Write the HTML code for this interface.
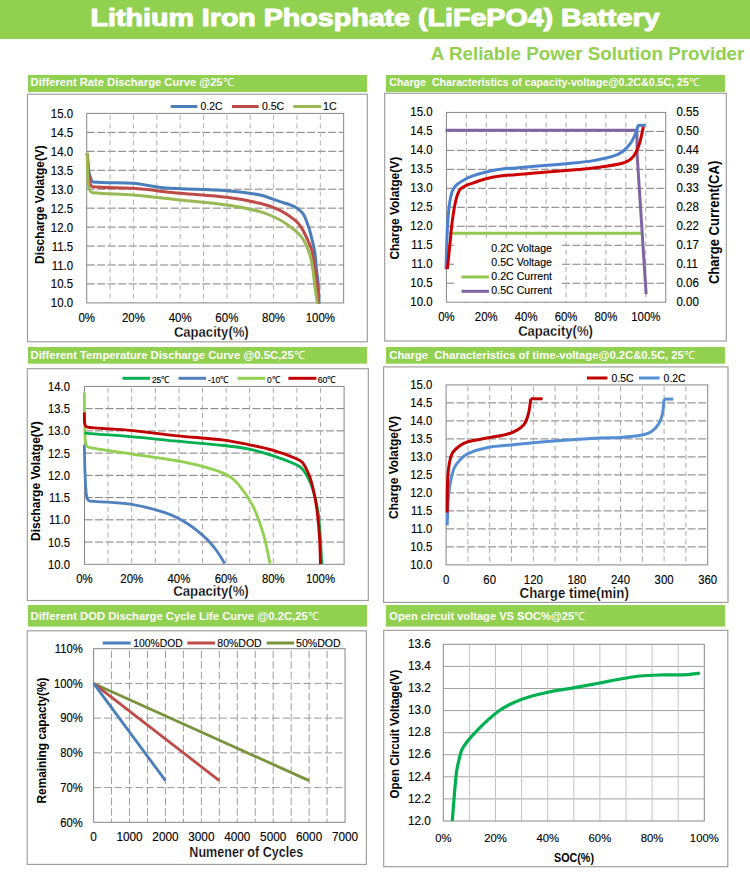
<!DOCTYPE html>
<html><head><meta charset="utf-8"><title>LiFePO4 Battery</title>
<style>html,body{margin:0;padding:0;background:#fff;}svg{display:block;}</style></head>
<body><svg width="750" height="879" viewBox="0 0 750 879" font-family="Liberation Sans, sans-serif">
<rect x="0" y="0" width="750" height="879" fill="#fff"/>
<rect x="0.00" y="0.00" width="750.00" height="39.00" fill="#92D050" stroke="none" stroke-width="1" />
<text x="90.6" y="26.0" font-size="23.2" font-weight="bold" fill="#fff" stroke="#fff" stroke-width="1.05" stroke-linejoin="round" textLength="569" lengthAdjust="spacingAndGlyphs">Lithium Iron Phosphate (LiFePO4) Battery</text>
<text x="430.80" y="59.50" font-size="18" text-anchor="start" font-weight="bold" fill="#92D050" textLength="313.6" lengthAdjust="spacingAndGlyphs" >A Reliable Power Solution Provider</text>
<rect x="28.00" y="75.00" width="339.00" height="17.00" fill="#92D050" stroke="none" stroke-width="1" />
<text x="30.60" y="85.70" font-size="11" text-anchor="start" font-weight="bold" fill="#fff" textLength="203.2" lengthAdjust="spacingAndGlyphs" >Different Rate Discharge Curve @25<tspan font-weight="normal">℃</tspan></text>
<rect x="386.00" y="75.00" width="339.00" height="17.00" fill="#92D050" stroke="none" stroke-width="1" />
<text x="389.30" y="85.70" font-size="11" text-anchor="start" font-weight="bold" fill="#fff" textLength="310.3" lengthAdjust="spacingAndGlyphs" >Charge  Characteristics of capacity-voltage@0.2C&amp;0.5C, 25<tspan font-weight="normal">℃</tspan></text>
<rect x="28.00" y="347.00" width="339.00" height="16.70" fill="#92D050" stroke="none" stroke-width="1" />
<text x="30.60" y="358.70" font-size="11" text-anchor="start" font-weight="bold" fill="#fff" textLength="274.4" lengthAdjust="spacingAndGlyphs" >Different Temperature Discharge Curve @0.5C,25<tspan font-weight="normal">℃</tspan></text>
<rect x="386.00" y="347.00" width="339.00" height="16.70" fill="#92D050" stroke="none" stroke-width="1" />
<text x="389.30" y="358.70" font-size="11" text-anchor="start" font-weight="bold" fill="#fff" textLength="305.7" lengthAdjust="spacingAndGlyphs" >Charge  Characteristics of time-voltage@0.2C&amp;0.5C, 25<tspan font-weight="normal">℃</tspan></text>
<rect x="28.00" y="605.00" width="339.00" height="21.60" fill="#92D050" stroke="none" stroke-width="1" />
<text x="30.60" y="619.70" font-size="11" text-anchor="start" font-weight="bold" fill="#fff" textLength="288.4" lengthAdjust="spacingAndGlyphs" >Different DOD Discharge Cycle Life Curve @0.2C,25<tspan font-weight="normal">℃</tspan></text>
<rect x="386.00" y="605.00" width="339.00" height="21.60" fill="#92D050" stroke="none" stroke-width="1" />
<text x="389.30" y="619.70" font-size="11" text-anchor="start" font-weight="bold" fill="#fff" textLength="196" lengthAdjust="spacingAndGlyphs" >Open circuit voltage VS SOC%@25<tspan font-weight="normal">℃</tspan></text>
<rect x="27.50" y="94.20" width="339.80" height="247.60" fill="none" stroke="#9C9C9C" stroke-width="1.15" />
<rect x="384.70" y="93.30" width="341.60" height="247.70" fill="none" stroke="#9C9C9C" stroke-width="1.15" />
<rect x="27.30" y="368.70" width="341.00" height="231.80" fill="none" stroke="#9C9C9C" stroke-width="1.15" />
<rect x="383.60" y="366.90" width="344.40" height="235.50" fill="none" stroke="#9C9C9C" stroke-width="1.15" />
<rect x="27.20" y="630.80" width="339.20" height="233.60" fill="none" stroke="#9C9C9C" stroke-width="1.15" />
<rect x="383.70" y="630.30" width="344.10" height="236.40" fill="none" stroke="#9C9C9C" stroke-width="1.15" />
<line x1="86.70" y1="132.35" x2="343.66" y2="132.35" stroke="#7E7E7E" stroke-width="1" stroke-dasharray="8,2.5" />
<line x1="86.70" y1="151.30" x2="343.66" y2="151.30" stroke="#7E7E7E" stroke-width="1" stroke-dasharray="8,2.5" />
<line x1="86.70" y1="170.25" x2="343.66" y2="170.25" stroke="#7E7E7E" stroke-width="1" stroke-dasharray="8,2.5" />
<line x1="86.70" y1="189.20" x2="343.66" y2="189.20" stroke="#7E7E7E" stroke-width="1" stroke-dasharray="8,2.5" />
<line x1="86.70" y1="208.15" x2="343.66" y2="208.15" stroke="#7E7E7E" stroke-width="1" stroke-dasharray="8,2.5" />
<line x1="86.70" y1="227.10" x2="343.66" y2="227.10" stroke="#7E7E7E" stroke-width="1" stroke-dasharray="8,2.5" />
<line x1="86.70" y1="246.05" x2="343.66" y2="246.05" stroke="#7E7E7E" stroke-width="1" stroke-dasharray="8,2.5" />
<line x1="86.70" y1="265.00" x2="343.66" y2="265.00" stroke="#7E7E7E" stroke-width="1" stroke-dasharray="8,2.5" />
<line x1="86.70" y1="283.95" x2="343.66" y2="283.95" stroke="#7E7E7E" stroke-width="1" stroke-dasharray="8,2.5" />
<line x1="110.06" y1="113.40" x2="110.06" y2="302.90" stroke="#B2B2B2" stroke-width="1" stroke-dasharray="5,3.5" stroke-dashoffset="-1.5"/>
<line x1="133.42" y1="113.40" x2="133.42" y2="302.90" stroke="#B2B2B2" stroke-width="1" stroke-dasharray="5,3.5" stroke-dashoffset="-1.5"/>
<line x1="156.78" y1="113.40" x2="156.78" y2="302.90" stroke="#B2B2B2" stroke-width="1" stroke-dasharray="5,3.5" stroke-dashoffset="-1.5"/>
<line x1="180.14" y1="113.40" x2="180.14" y2="302.90" stroke="#B2B2B2" stroke-width="1" stroke-dasharray="5,3.5" stroke-dashoffset="-1.5"/>
<line x1="203.50" y1="113.40" x2="203.50" y2="302.90" stroke="#B2B2B2" stroke-width="1" stroke-dasharray="5,3.5" stroke-dashoffset="-1.5"/>
<line x1="226.86" y1="113.40" x2="226.86" y2="302.90" stroke="#B2B2B2" stroke-width="1" stroke-dasharray="5,3.5" stroke-dashoffset="-1.5"/>
<line x1="250.22" y1="113.40" x2="250.22" y2="302.90" stroke="#B2B2B2" stroke-width="1" stroke-dasharray="5,3.5" stroke-dashoffset="-1.5"/>
<line x1="273.58" y1="113.40" x2="273.58" y2="302.90" stroke="#B2B2B2" stroke-width="1" stroke-dasharray="5,3.5" stroke-dashoffset="-1.5"/>
<line x1="296.94" y1="113.40" x2="296.94" y2="302.90" stroke="#B2B2B2" stroke-width="1" stroke-dasharray="5,3.5" stroke-dashoffset="-1.5"/>
<line x1="320.30" y1="113.40" x2="320.30" y2="302.90" stroke="#B2B2B2" stroke-width="1" stroke-dasharray="5,3.5" stroke-dashoffset="-1.5"/>
<rect x="86.70" y="113.40" width="256.96" height="189.50" fill="none" stroke="#868686" stroke-width="1" />
<text transform="translate(73.00,117.90) scale(1,1.13)" x="0" y="0" font-size="11.4" text-anchor="end" font-weight="normal" fill="#000" stroke="#000" stroke-width="0.12" >15.0</text>
<text transform="translate(73.00,136.85) scale(1,1.13)" x="0" y="0" font-size="11.4" text-anchor="end" font-weight="normal" fill="#000" stroke="#000" stroke-width="0.12" >14.5</text>
<text transform="translate(73.00,155.80) scale(1,1.13)" x="0" y="0" font-size="11.4" text-anchor="end" font-weight="normal" fill="#000" stroke="#000" stroke-width="0.12" >14.0</text>
<text transform="translate(73.00,174.75) scale(1,1.13)" x="0" y="0" font-size="11.4" text-anchor="end" font-weight="normal" fill="#000" stroke="#000" stroke-width="0.12" >13.5</text>
<text transform="translate(73.00,193.70) scale(1,1.13)" x="0" y="0" font-size="11.4" text-anchor="end" font-weight="normal" fill="#000" stroke="#000" stroke-width="0.12" >13.0</text>
<text transform="translate(73.00,212.65) scale(1,1.13)" x="0" y="0" font-size="11.4" text-anchor="end" font-weight="normal" fill="#000" stroke="#000" stroke-width="0.12" >12.5</text>
<text transform="translate(73.00,231.60) scale(1,1.13)" x="0" y="0" font-size="11.4" text-anchor="end" font-weight="normal" fill="#000" stroke="#000" stroke-width="0.12" >12.0</text>
<text transform="translate(73.00,250.55) scale(1,1.13)" x="0" y="0" font-size="11.4" text-anchor="end" font-weight="normal" fill="#000" stroke="#000" stroke-width="0.12" >11.5</text>
<text transform="translate(73.00,269.50) scale(1,1.13)" x="0" y="0" font-size="11.4" text-anchor="end" font-weight="normal" fill="#000" stroke="#000" stroke-width="0.12" >11.0</text>
<text transform="translate(73.00,288.45) scale(1,1.13)" x="0" y="0" font-size="11.4" text-anchor="end" font-weight="normal" fill="#000" stroke="#000" stroke-width="0.12" >10.5</text>
<text transform="translate(73.00,307.40) scale(1,1.13)" x="0" y="0" font-size="11.4" text-anchor="end" font-weight="normal" fill="#000" stroke="#000" stroke-width="0.12" >10.0</text>
<text transform="translate(86.70,322.00) scale(1,1.12)" x="0" y="0" font-size="11.5" text-anchor="middle" font-weight="normal" fill="#000" stroke="#000" stroke-width="0.12" >0%</text>
<text transform="translate(133.42,322.00) scale(1,1.12)" x="0" y="0" font-size="11.5" text-anchor="middle" font-weight="normal" fill="#000" stroke="#000" stroke-width="0.12" >20%</text>
<text transform="translate(180.14,322.00) scale(1,1.12)" x="0" y="0" font-size="11.5" text-anchor="middle" font-weight="normal" fill="#000" stroke="#000" stroke-width="0.12" >40%</text>
<text transform="translate(226.86,322.00) scale(1,1.12)" x="0" y="0" font-size="11.5" text-anchor="middle" font-weight="normal" fill="#000" stroke="#000" stroke-width="0.12" >60%</text>
<text transform="translate(273.58,322.00) scale(1,1.12)" x="0" y="0" font-size="11.5" text-anchor="middle" font-weight="normal" fill="#000" stroke="#000" stroke-width="0.12" >80%</text>
<text transform="translate(320.30,322.00) scale(1,1.12)" x="0" y="0" font-size="11.5" text-anchor="middle" font-weight="normal" fill="#000" stroke="#000" stroke-width="0.12" >100%</text>
<text transform="translate(211.30,336.60) scale(1,1.14)" x="0" y="0" font-size="12.5" text-anchor="middle" font-weight="bold" fill="#000" textLength="74.8" lengthAdjust="spacingAndGlyphs" stroke="#fff" stroke-width="0.22">Capacity(%)</text>
<text transform="translate(43.90,204.60) rotate(-90) scale(1,1.1)" x="0" y="0" font-size="12" text-anchor="middle" font-weight="bold" fill="#000" textLength="118.7" lengthAdjust="spacingAndGlyphs">Discharge Volatge(V)</text>
<line x1="170.70" y1="106.50" x2="197.30" y2="106.50" stroke="#4A7EBB" stroke-width="3" />
<text x="200.50" y="109.90" font-size="11.3" text-anchor="start" font-weight="normal" fill="#000" stroke="#000" stroke-width="0.12" textLength="22" lengthAdjust="spacingAndGlyphs" >0.2C</text>
<line x1="232.00" y1="106.50" x2="258.70" y2="106.50" stroke="#BE4B48" stroke-width="3" />
<text x="261.90" y="109.90" font-size="11.3" text-anchor="start" font-weight="normal" fill="#000" stroke="#000" stroke-width="0.12" textLength="22.3" lengthAdjust="spacingAndGlyphs" >0.5C</text>
<line x1="293.30" y1="106.50" x2="321.30" y2="106.50" stroke="#98B954" stroke-width="3" />
<text x="323.00" y="109.90" font-size="11.3" text-anchor="start" font-weight="normal" fill="#000" stroke="#000" stroke-width="0.12" textLength="13.7" lengthAdjust="spacingAndGlyphs" >1C</text>
<path d="M87.20,153.00 C87.72,159.11 87.88,165.29 88.77,171.33 C89.14,173.89 89.99,176.43 90.97,178.80 C91.44,179.95 91.89,181.77 93.10,181.90 C106.02,183.28 119.98,182.24 133.33,183.33 C143.39,184.16 153.27,186.88 163.33,187.67 C184.38,189.32 205.61,189.07 226.67,190.67 C237.83,191.51 249.07,192.75 260.00,195.00 C266.85,196.41 273.32,199.49 280.00,201.67 C283.88,202.93 287.91,203.80 291.67,205.33 C294.03,206.30 296.33,207.61 298.33,209.17 C300.33,210.72 302.41,212.49 303.67,214.67 C305.84,218.44 307.19,222.81 308.60,227.00 C309.96,231.03 310.99,235.19 312.00,239.33 C313.05,243.64 314.14,247.96 314.80,252.33 C315.64,257.96 315.89,263.67 316.50,269.33 C317.03,274.23 317.83,279.10 318.20,284.00 C318.70,290.54 318.80,297.11 319.10,303.67" fill="none" stroke="#4A7EBB" stroke-width="3" stroke-linejoin="round" stroke-linecap="butt"/>
<path d="M87.20,153.00 C87.72,159.72 88.09,166.46 88.77,173.17 C89.13,176.73 89.37,180.43 90.30,183.80 C90.61,184.93 91.33,186.54 92.50,186.67 C105.68,188.06 119.76,187.30 133.33,188.33 C148.92,189.52 164.43,191.83 180.00,193.33 C195.54,194.83 211.19,195.40 226.67,197.33 C237.86,198.73 249.06,200.67 260.00,203.33 C266.84,205.00 273.68,207.29 280.00,210.33 C285.35,212.91 290.43,216.43 295.00,220.20 C297.70,222.43 299.94,225.36 301.80,228.33 C304.48,232.62 306.51,237.37 308.60,242.00 C309.91,244.92 311.27,247.89 312.00,251.00 C313.41,257.00 314.05,263.21 315.00,269.33 C315.75,274.21 316.61,279.09 317.10,284.00 C317.75,290.53 317.97,297.11 318.40,303.67" fill="none" stroke="#BE4B48" stroke-width="3" stroke-linejoin="round" stroke-linecap="butt"/>
<path d="M87.20,153.00 C87.51,162.89 87.40,172.83 88.13,182.67 C88.34,185.39 88.86,188.37 90.00,190.67 C90.51,191.70 91.89,192.55 93.10,192.67 C106.33,193.99 119.95,193.87 133.33,195.00 C148.92,196.32 164.44,198.33 180.00,200.00 C195.56,201.67 211.20,202.74 226.67,205.00 C237.87,206.63 249.14,208.61 260.00,211.67 C266.92,213.61 273.66,216.62 280.00,220.00 C285.33,222.84 290.27,226.57 295.00,230.33 C297.54,232.35 299.88,234.74 301.80,237.33 C303.75,239.96 305.28,242.98 306.60,246.00 C308.24,249.76 309.61,253.70 310.67,257.67 C311.68,261.48 312.25,265.42 312.83,269.33 C313.56,274.20 313.96,279.12 314.60,284.00 C315.45,290.56 316.40,297.11 317.30,303.67" fill="none" stroke="#98B954" stroke-width="3" stroke-linejoin="round" stroke-linecap="butt"/>
<line x1="446.40" y1="131.38" x2="665.74" y2="131.38" stroke="#7E7E7E" stroke-width="1" stroke-dasharray="8,2.5" />
<line x1="446.40" y1="150.36" x2="665.74" y2="150.36" stroke="#7E7E7E" stroke-width="1" stroke-dasharray="8,2.5" />
<line x1="446.40" y1="169.34" x2="665.74" y2="169.34" stroke="#7E7E7E" stroke-width="1" stroke-dasharray="8,2.5" />
<line x1="446.40" y1="188.32" x2="665.74" y2="188.32" stroke="#7E7E7E" stroke-width="1" stroke-dasharray="8,2.5" />
<line x1="446.40" y1="207.30" x2="665.74" y2="207.30" stroke="#7E7E7E" stroke-width="1" stroke-dasharray="8,2.5" />
<line x1="446.40" y1="226.28" x2="665.74" y2="226.28" stroke="#7E7E7E" stroke-width="1" stroke-dasharray="8,2.5" />
<line x1="446.40" y1="245.26" x2="665.74" y2="245.26" stroke="#7E7E7E" stroke-width="1" stroke-dasharray="8,2.5" />
<line x1="446.40" y1="264.24" x2="665.74" y2="264.24" stroke="#7E7E7E" stroke-width="1" stroke-dasharray="8,2.5" />
<line x1="446.40" y1="283.22" x2="665.74" y2="283.22" stroke="#7E7E7E" stroke-width="1" stroke-dasharray="8,2.5" />
<line x1="466.34" y1="112.40" x2="466.34" y2="302.20" stroke="#A8A8A8" stroke-width="1" stroke-dasharray="5,3.5" stroke-dashoffset="-1.5"/>
<line x1="486.28" y1="112.40" x2="486.28" y2="302.20" stroke="#A8A8A8" stroke-width="1" stroke-dasharray="5,3.5" stroke-dashoffset="-1.5"/>
<line x1="506.22" y1="112.40" x2="506.22" y2="302.20" stroke="#A8A8A8" stroke-width="1" stroke-dasharray="5,3.5" stroke-dashoffset="-1.5"/>
<line x1="526.16" y1="112.40" x2="526.16" y2="302.20" stroke="#A8A8A8" stroke-width="1" stroke-dasharray="5,3.5" stroke-dashoffset="-1.5"/>
<line x1="546.10" y1="112.40" x2="546.10" y2="302.20" stroke="#A8A8A8" stroke-width="1" stroke-dasharray="5,3.5" stroke-dashoffset="-1.5"/>
<line x1="566.04" y1="112.40" x2="566.04" y2="302.20" stroke="#A8A8A8" stroke-width="1" stroke-dasharray="5,3.5" stroke-dashoffset="-1.5"/>
<line x1="585.98" y1="112.40" x2="585.98" y2="302.20" stroke="#A8A8A8" stroke-width="1" stroke-dasharray="5,3.5" stroke-dashoffset="-1.5"/>
<line x1="605.92" y1="112.40" x2="605.92" y2="302.20" stroke="#A8A8A8" stroke-width="1" stroke-dasharray="5,3.5" stroke-dashoffset="-1.5"/>
<line x1="625.86" y1="112.40" x2="625.86" y2="302.20" stroke="#A8A8A8" stroke-width="1" stroke-dasharray="5,3.5" stroke-dashoffset="-1.5"/>
<line x1="645.80" y1="112.40" x2="645.80" y2="302.20" stroke="#A8A8A8" stroke-width="1" stroke-dasharray="5,3.5" stroke-dashoffset="-1.5"/>
<rect x="446.40" y="112.40" width="219.34" height="189.80" fill="none" stroke="#868686" stroke-width="1" />
<text transform="translate(432.50,116.00) scale(1,1.13)" x="0" y="0" font-size="11.4" text-anchor="end" font-weight="normal" fill="#000" stroke="#000" stroke-width="0.12" >15.0</text>
<text transform="translate(432.50,134.98) scale(1,1.13)" x="0" y="0" font-size="11.4" text-anchor="end" font-weight="normal" fill="#000" stroke="#000" stroke-width="0.12" >14.5</text>
<text transform="translate(432.50,153.96) scale(1,1.13)" x="0" y="0" font-size="11.4" text-anchor="end" font-weight="normal" fill="#000" stroke="#000" stroke-width="0.12" >14.0</text>
<text transform="translate(432.50,172.94) scale(1,1.13)" x="0" y="0" font-size="11.4" text-anchor="end" font-weight="normal" fill="#000" stroke="#000" stroke-width="0.12" >13.5</text>
<text transform="translate(432.50,191.92) scale(1,1.13)" x="0" y="0" font-size="11.4" text-anchor="end" font-weight="normal" fill="#000" stroke="#000" stroke-width="0.12" >13.0</text>
<text transform="translate(432.50,210.90) scale(1,1.13)" x="0" y="0" font-size="11.4" text-anchor="end" font-weight="normal" fill="#000" stroke="#000" stroke-width="0.12" >12.5</text>
<text transform="translate(432.50,229.88) scale(1,1.13)" x="0" y="0" font-size="11.4" text-anchor="end" font-weight="normal" fill="#000" stroke="#000" stroke-width="0.12" >12.0</text>
<text transform="translate(432.50,248.86) scale(1,1.13)" x="0" y="0" font-size="11.4" text-anchor="end" font-weight="normal" fill="#000" stroke="#000" stroke-width="0.12" >11.5</text>
<text transform="translate(432.50,267.84) scale(1,1.13)" x="0" y="0" font-size="11.4" text-anchor="end" font-weight="normal" fill="#000" stroke="#000" stroke-width="0.12" >11.0</text>
<text transform="translate(432.50,286.82) scale(1,1.13)" x="0" y="0" font-size="11.4" text-anchor="end" font-weight="normal" fill="#000" stroke="#000" stroke-width="0.12" >10.5</text>
<text transform="translate(432.50,305.80) scale(1,1.13)" x="0" y="0" font-size="11.4" text-anchor="end" font-weight="normal" fill="#000" stroke="#000" stroke-width="0.12" >10.0</text>
<text transform="translate(676.40,116.00) scale(1,1.13)" x="0" y="0" font-size="11.5" text-anchor="start" font-weight="normal" fill="#000" stroke="#000" stroke-width="0.12" >0.55</text>
<text transform="translate(676.40,134.98) scale(1,1.13)" x="0" y="0" font-size="11.5" text-anchor="start" font-weight="normal" fill="#000" stroke="#000" stroke-width="0.12" >0.50</text>
<text transform="translate(676.40,153.96) scale(1,1.13)" x="0" y="0" font-size="11.5" text-anchor="start" font-weight="normal" fill="#000" stroke="#000" stroke-width="0.12" >0.44</text>
<text transform="translate(676.40,172.94) scale(1,1.13)" x="0" y="0" font-size="11.5" text-anchor="start" font-weight="normal" fill="#000" stroke="#000" stroke-width="0.12" >0.39</text>
<text transform="translate(676.40,191.92) scale(1,1.13)" x="0" y="0" font-size="11.5" text-anchor="start" font-weight="normal" fill="#000" stroke="#000" stroke-width="0.12" >0.33</text>
<text transform="translate(676.40,210.90) scale(1,1.13)" x="0" y="0" font-size="11.5" text-anchor="start" font-weight="normal" fill="#000" stroke="#000" stroke-width="0.12" >0.28</text>
<text transform="translate(676.40,229.88) scale(1,1.13)" x="0" y="0" font-size="11.5" text-anchor="start" font-weight="normal" fill="#000" stroke="#000" stroke-width="0.12" >0.22</text>
<text transform="translate(676.40,248.86) scale(1,1.13)" x="0" y="0" font-size="11.5" text-anchor="start" font-weight="normal" fill="#000" stroke="#000" stroke-width="0.12" >0.17</text>
<text transform="translate(676.40,267.84) scale(1,1.13)" x="0" y="0" font-size="11.5" text-anchor="start" font-weight="normal" fill="#000" stroke="#000" stroke-width="0.12" >0.11</text>
<text transform="translate(676.40,286.82) scale(1,1.13)" x="0" y="0" font-size="11.5" text-anchor="start" font-weight="normal" fill="#000" stroke="#000" stroke-width="0.12" >0.06</text>
<text transform="translate(676.40,305.80) scale(1,1.13)" x="0" y="0" font-size="11.5" text-anchor="start" font-weight="normal" fill="#000" stroke="#000" stroke-width="0.12" >0.00</text>
<text transform="translate(446.40,321.30) scale(1,1.12)" x="0" y="0" font-size="11.4" text-anchor="middle" font-weight="normal" fill="#000" stroke="#000" stroke-width="0.12" >0%</text>
<text transform="translate(486.28,321.30) scale(1,1.12)" x="0" y="0" font-size="11.4" text-anchor="middle" font-weight="normal" fill="#000" stroke="#000" stroke-width="0.12" >20%</text>
<text transform="translate(526.16,321.30) scale(1,1.12)" x="0" y="0" font-size="11.4" text-anchor="middle" font-weight="normal" fill="#000" stroke="#000" stroke-width="0.12" >40%</text>
<text transform="translate(566.04,321.30) scale(1,1.12)" x="0" y="0" font-size="11.4" text-anchor="middle" font-weight="normal" fill="#000" stroke="#000" stroke-width="0.12" >60%</text>
<text transform="translate(605.92,321.30) scale(1,1.12)" x="0" y="0" font-size="11.4" text-anchor="middle" font-weight="normal" fill="#000" stroke="#000" stroke-width="0.12" >80%</text>
<text transform="translate(645.80,321.30) scale(1,1.12)" x="0" y="0" font-size="11.4" text-anchor="middle" font-weight="normal" fill="#000" stroke="#000" stroke-width="0.12" >100%</text>
<text transform="translate(555.50,335.90) scale(1,1.14)" x="0" y="0" font-size="12.5" text-anchor="middle" font-weight="bold" fill="#000" textLength="74.7" lengthAdjust="spacingAndGlyphs" stroke="#fff" stroke-width="0.22">Capacity(%)</text>
<text transform="translate(399.00,208.20) rotate(-90) scale(1,1.1)" x="0" y="0" font-size="12" text-anchor="middle" font-weight="bold" fill="#000" textLength="102.8" lengthAdjust="spacingAndGlyphs">Charge Volatge(V)</text>
<text transform="translate(718.70,222.40) rotate(-90) scale(1,1.1)" x="0" y="0" font-size="12.8" text-anchor="middle" font-weight="bold" fill="#000" textLength="123.4" lengthAdjust="spacingAndGlyphs">Charge Current(CA)</text>
<rect x="454.00" y="240.50" width="105.50" height="60.70" fill="#fff" stroke="none" stroke-width="1" />
<text x="491.30" y="252.10" font-size="10.6" text-anchor="start" font-weight="normal" fill="#000" stroke="#000" stroke-width="0.12" textLength="60.7" lengthAdjust="spacingAndGlyphs" >0.2C Voltage</text>
<text x="491.30" y="265.90" font-size="10.6" text-anchor="start" font-weight="normal" fill="#000" stroke="#000" stroke-width="0.12" textLength="60.7" lengthAdjust="spacingAndGlyphs" >0.5C Voltage</text>
<text x="491.30" y="280.10" font-size="10.6" text-anchor="start" font-weight="normal" fill="#000" stroke="#000" stroke-width="0.12" textLength="60.7" lengthAdjust="spacingAndGlyphs" >0.2C Current</text>
<text x="491.30" y="294.30" font-size="10.6" text-anchor="start" font-weight="normal" fill="#000" stroke="#000" stroke-width="0.12" textLength="60.7" lengthAdjust="spacingAndGlyphs" >0.5C Current</text>
<line x1="461.50" y1="277.00" x2="488.90" y2="277.00" stroke="#92C850" stroke-width="3" />
<line x1="461.50" y1="291.30" x2="488.90" y2="291.30" stroke="#8064A2" stroke-width="3" />
<line x1="448.59" y1="233.30" x2="640.92" y2="233.30" stroke="#92C850" stroke-width="3" />
<path d="M445.52,130.20 L636.81,130.20 L637.30,157.50 L646.13,294.05" fill="none" stroke="#8064A2" stroke-width="3" stroke-linejoin="round"/>
<path d="M446.04,269.20 C446.49,255.60 446.68,241.99 447.39,228.40 C447.83,220.11 448.43,211.78 449.51,203.56 C450.05,199.41 450.85,195.17 452.27,191.29 C453.10,189.03 454.57,186.84 456.26,185.15 C458.15,183.27 460.66,181.92 463.01,180.55 C465.67,179.00 468.41,177.49 471.29,176.41 C475.77,174.73 480.44,173.45 485.09,172.27 C489.54,171.15 494.03,170.03 498.59,169.51 C513.66,167.78 528.85,166.82 543.99,165.52 C550.22,164.98 556.47,164.61 562.70,163.99 C572.93,162.97 583.26,162.36 593.37,160.61 C601.66,159.19 610.45,157.90 617.91,154.48 C622.72,152.27 626.85,147.91 630.18,143.74 C632.99,140.24 634.50,135.65 636.32,131.47 C637.26,129.31 637.75,126.97 638.47,124.72" fill="none" stroke="#4A80CC" stroke-width="3" stroke-linejoin="round" stroke-linecap="butt"/>
<path d="M637.85,125.34 L645.52,125.34" fill="none" stroke="#4A80CC" stroke-width="3" stroke-linejoin="round"/>
<path d="M447.36,269.20 C448.28,260.10 449.19,251.00 450.12,241.90 C450.83,235.05 451.35,228.17 452.27,221.35 C453.19,214.57 454.08,207.74 455.64,201.10 C456.54,197.31 457.68,193.28 459.63,190.06 C460.65,188.38 462.76,187.36 464.54,186.38 C466.65,185.21 469.00,184.44 471.29,183.62 C475.85,181.98 480.42,180.28 485.09,179.02 C489.52,177.82 494.03,176.78 498.59,176.26 C513.66,174.53 528.85,173.57 543.99,172.27 C550.22,171.73 556.46,171.28 562.70,170.74 C572.93,169.85 583.20,169.30 593.37,167.98 C603.65,166.64 614.24,165.55 624.05,162.76 C627.53,161.77 631.02,159.39 633.25,156.63 C636.13,153.05 637.86,148.22 639.39,143.74 C641.24,138.30 642.04,132.49 643.37,126.87" fill="none" stroke="#CC0000" stroke-width="3" stroke-linejoin="round" stroke-linecap="butt"/>
<line x1="84.50" y1="408.64" x2="344.10" y2="408.64" stroke="#7E7E7E" stroke-width="1" stroke-dasharray="8,2.5" />
<line x1="84.50" y1="430.88" x2="344.10" y2="430.88" stroke="#7E7E7E" stroke-width="1" stroke-dasharray="8,2.5" />
<line x1="84.50" y1="453.11" x2="344.10" y2="453.11" stroke="#7E7E7E" stroke-width="1" stroke-dasharray="8,2.5" />
<line x1="84.50" y1="475.35" x2="344.10" y2="475.35" stroke="#7E7E7E" stroke-width="1" stroke-dasharray="8,2.5" />
<line x1="84.50" y1="497.59" x2="344.10" y2="497.59" stroke="#7E7E7E" stroke-width="1" stroke-dasharray="8,2.5" />
<line x1="84.50" y1="519.82" x2="344.10" y2="519.82" stroke="#7E7E7E" stroke-width="1" stroke-dasharray="8,2.5" />
<line x1="84.50" y1="542.06" x2="344.10" y2="542.06" stroke="#7E7E7E" stroke-width="1" stroke-dasharray="8,2.5" />
<line x1="108.10" y1="386.40" x2="108.10" y2="564.30" stroke="#ABABAB" stroke-width="1" stroke-dasharray="5,3.5" stroke-dashoffset="-1.5"/>
<line x1="131.70" y1="386.40" x2="131.70" y2="564.30" stroke="#ABABAB" stroke-width="1" stroke-dasharray="5,3.5" stroke-dashoffset="-1.5"/>
<line x1="155.30" y1="386.40" x2="155.30" y2="564.30" stroke="#ABABAB" stroke-width="1" stroke-dasharray="5,3.5" stroke-dashoffset="-1.5"/>
<line x1="178.90" y1="386.40" x2="178.90" y2="564.30" stroke="#ABABAB" stroke-width="1" stroke-dasharray="5,3.5" stroke-dashoffset="-1.5"/>
<line x1="202.50" y1="386.40" x2="202.50" y2="564.30" stroke="#ABABAB" stroke-width="1" stroke-dasharray="5,3.5" stroke-dashoffset="-1.5"/>
<line x1="226.10" y1="386.40" x2="226.10" y2="564.30" stroke="#ABABAB" stroke-width="1" stroke-dasharray="5,3.5" stroke-dashoffset="-1.5"/>
<line x1="249.70" y1="386.40" x2="249.70" y2="564.30" stroke="#ABABAB" stroke-width="1" stroke-dasharray="5,3.5" stroke-dashoffset="-1.5"/>
<line x1="273.30" y1="386.40" x2="273.30" y2="564.30" stroke="#ABABAB" stroke-width="1" stroke-dasharray="5,3.5" stroke-dashoffset="-1.5"/>
<line x1="296.90" y1="386.40" x2="296.90" y2="564.30" stroke="#ABABAB" stroke-width="1" stroke-dasharray="5,3.5" stroke-dashoffset="-1.5"/>
<line x1="320.50" y1="386.40" x2="320.50" y2="564.30" stroke="#ABABAB" stroke-width="1" stroke-dasharray="5,3.5" stroke-dashoffset="-1.5"/>
<rect x="84.50" y="386.40" width="259.60" height="177.90" fill="none" stroke="#868686" stroke-width="1" />
<text transform="translate(70.00,391.00) scale(1,1.15)" x="0" y="0" font-size="11.25" text-anchor="end" font-weight="normal" fill="#000" stroke="#000" stroke-width="0.12" >14.0</text>
<text transform="translate(70.00,413.24) scale(1,1.15)" x="0" y="0" font-size="11.25" text-anchor="end" font-weight="normal" fill="#000" stroke="#000" stroke-width="0.12" >13.5</text>
<text transform="translate(70.00,435.48) scale(1,1.15)" x="0" y="0" font-size="11.25" text-anchor="end" font-weight="normal" fill="#000" stroke="#000" stroke-width="0.12" >13.0</text>
<text transform="translate(70.00,457.71) scale(1,1.15)" x="0" y="0" font-size="11.25" text-anchor="end" font-weight="normal" fill="#000" stroke="#000" stroke-width="0.12" >12.5</text>
<text transform="translate(70.00,479.95) scale(1,1.15)" x="0" y="0" font-size="11.25" text-anchor="end" font-weight="normal" fill="#000" stroke="#000" stroke-width="0.12" >12.0</text>
<text transform="translate(70.00,502.19) scale(1,1.15)" x="0" y="0" font-size="11.25" text-anchor="end" font-weight="normal" fill="#000" stroke="#000" stroke-width="0.12" >11.5</text>
<text transform="translate(70.00,524.42) scale(1,1.15)" x="0" y="0" font-size="11.25" text-anchor="end" font-weight="normal" fill="#000" stroke="#000" stroke-width="0.12" >11.0</text>
<text transform="translate(70.00,546.66) scale(1,1.15)" x="0" y="0" font-size="11.25" text-anchor="end" font-weight="normal" fill="#000" stroke="#000" stroke-width="0.12" >10.5</text>
<text transform="translate(70.00,568.90) scale(1,1.15)" x="0" y="0" font-size="11.25" text-anchor="end" font-weight="normal" fill="#000" stroke="#000" stroke-width="0.12" >10.0</text>
<text transform="translate(84.50,582.90) scale(1,1.12)" x="0" y="0" font-size="11.4" text-anchor="middle" font-weight="normal" fill="#000" stroke="#000" stroke-width="0.12" >0%</text>
<text transform="translate(131.70,582.90) scale(1,1.12)" x="0" y="0" font-size="11.4" text-anchor="middle" font-weight="normal" fill="#000" stroke="#000" stroke-width="0.12" >20%</text>
<text transform="translate(178.90,582.90) scale(1,1.12)" x="0" y="0" font-size="11.4" text-anchor="middle" font-weight="normal" fill="#000" stroke="#000" stroke-width="0.12" >40%</text>
<text transform="translate(226.10,582.90) scale(1,1.12)" x="0" y="0" font-size="11.4" text-anchor="middle" font-weight="normal" fill="#000" stroke="#000" stroke-width="0.12" >60%</text>
<text transform="translate(273.30,582.90) scale(1,1.12)" x="0" y="0" font-size="11.4" text-anchor="middle" font-weight="normal" fill="#000" stroke="#000" stroke-width="0.12" >80%</text>
<text transform="translate(320.50,582.90) scale(1,1.12)" x="0" y="0" font-size="11.4" text-anchor="middle" font-weight="normal" fill="#000" stroke="#000" stroke-width="0.12" >100%</text>
<text transform="translate(211.00,595.90) scale(1,1.14)" x="0" y="0" font-size="12.5" text-anchor="middle" font-weight="bold" fill="#000" textLength="75.5" lengthAdjust="spacingAndGlyphs" stroke="#fff" stroke-width="0.22">Capacity(%)</text>
<text transform="translate(40.10,481.05) rotate(-90) scale(1,1.1)" x="0" y="0" font-size="12" text-anchor="middle" font-weight="bold" fill="#000" textLength="119.7" lengthAdjust="spacingAndGlyphs">Discharge Volatge(V)</text>
<line x1="122.50" y1="378.30" x2="150.00" y2="378.30" stroke="#00B050" stroke-width="3" />
<text x="151.90" y="382.80" font-size="9.6" text-anchor="start" font-weight="normal" fill="#000" stroke="#000" stroke-width="0.12" textLength="18.1" lengthAdjust="spacingAndGlyphs" >25<tspan font-weight="normal">℃</tspan></text>
<line x1="178.50" y1="378.30" x2="206.00" y2="378.30" stroke="#4F81BD" stroke-width="3" />
<text x="208.00" y="382.80" font-size="9.6" text-anchor="start" font-weight="normal" fill="#000" stroke="#000" stroke-width="0.12" textLength="21.2" lengthAdjust="spacingAndGlyphs" >-10<tspan font-weight="normal">℃</tspan></text>
<line x1="237.70" y1="378.30" x2="265.20" y2="378.30" stroke="#92D050" stroke-width="3" />
<text x="267.00" y="382.80" font-size="9.6" text-anchor="start" font-weight="normal" fill="#000" stroke="#000" stroke-width="0.12" textLength="13.4" lengthAdjust="spacingAndGlyphs" >0<tspan font-weight="normal">℃</tspan></text>
<line x1="288.40" y1="378.30" x2="316.40" y2="378.30" stroke="#C00000" stroke-width="3" />
<text x="317.70" y="382.80" font-size="9.6" text-anchor="start" font-weight="normal" fill="#000" stroke="#000" stroke-width="0.12" textLength="18.7" lengthAdjust="spacingAndGlyphs" >60<tspan font-weight="normal">℃</tspan></text>
<path d="M84.32,444.79 C84.56,454.39 84.63,464.00 85.04,473.59 C85.35,480.80 85.53,488.10 86.48,495.19 C86.73,497.10 87.32,499.57 88.64,500.59 C89.96,501.61 92.47,501.14 94.40,501.31 C106.39,502.34 118.56,502.24 130.40,504.19 C142.56,506.20 154.76,509.19 166.39,513.19 C173.96,515.79 181.24,519.69 187.99,523.99 C194.44,528.09 200.41,533.15 205.99,538.39 C210.01,542.15 213.50,546.56 216.79,550.99 C219.74,554.96 222.07,559.39 224.71,563.59" fill="none" stroke="#4F81BD" stroke-width="2.8" stroke-linejoin="round" stroke-linecap="butt"/>
<path d="M84.32,392.60 C84.44,402.80 84.45,413.00 84.68,423.20 C84.81,429.20 84.76,435.27 85.40,441.20 C85.60,443.07 85.90,445.55 87.20,446.59 C88.90,447.95 91.96,447.99 94.40,448.39 C106.36,450.39 118.40,451.97 130.40,453.79 C146.00,456.17 161.65,458.27 177.19,460.99 C185.65,462.47 194.12,464.13 202.39,466.39 C210.32,468.57 218.53,470.68 225.79,474.31 C230.53,476.68 234.94,480.34 238.39,484.39 C243.94,490.90 248.94,498.30 252.79,505.99 C257.34,515.10 260.65,524.99 263.59,534.79 C266.41,544.19 267.90,553.99 270.06,563.59" fill="none" stroke="#92D050" stroke-width="2.8" stroke-linejoin="round" stroke-linecap="butt"/>
<path d="M84.68,432.92 C85.52,433.04 86.35,433.21 87.20,433.28 C101.59,434.41 116.01,435.25 130.40,436.52 C146.01,437.89 161.59,439.69 177.19,441.20 C192.79,442.69 208.42,443.80 223.99,445.51 C232.42,446.44 240.90,447.39 249.19,449.11 C257.09,450.75 264.91,453.06 272.58,455.59 C280.51,458.22 288.48,461.06 295.98,464.59 C298.68,465.86 301.34,467.70 303.18,469.99 C306.14,473.70 308.50,478.17 310.38,482.59 C312.58,487.77 314.06,493.31 315.42,498.79 C316.77,504.23 317.81,509.79 318.52,515.35 C319.46,522.75 319.90,530.22 320.39,537.67 C320.97,546.42 321.28,555.19 321.72,563.95" fill="none" stroke="#00B050" stroke-width="2.8" stroke-linejoin="round" stroke-linecap="butt"/>
<path d="M84.32,412.40 C84.44,416.00 84.16,419.70 84.68,423.20 C84.88,424.50 85.39,426.27 86.48,426.80 C88.63,427.83 91.74,427.66 94.40,427.88 C106.38,428.86 118.43,429.25 130.40,430.40 C146.02,431.89 161.57,434.17 177.19,435.80 C192.77,437.41 208.46,438.17 223.99,440.12 C232.46,441.17 240.82,443.06 249.19,444.79 C257.02,446.42 264.91,447.95 272.58,450.19 C280.51,452.51 288.37,455.32 295.98,458.47 C298.38,459.46 301.11,460.59 302.61,462.61 C305.79,466.94 308.15,472.35 310.02,477.55 C312.18,483.57 313.44,489.97 314.70,496.27 C315.96,502.57 316.84,508.96 317.58,515.35 C318.44,522.76 319.05,530.22 319.49,537.67 C320.01,546.41 320.14,555.19 320.46,563.95" fill="none" stroke="#C00000" stroke-width="2.8" stroke-linejoin="round" stroke-linecap="butt"/>
<line x1="446.10" y1="402.90" x2="707.70" y2="402.90" stroke="#7E7E7E" stroke-width="1" stroke-dasharray="8,2.5" />
<line x1="446.10" y1="420.90" x2="707.70" y2="420.90" stroke="#7E7E7E" stroke-width="1" stroke-dasharray="8,2.5" />
<line x1="446.10" y1="438.90" x2="707.70" y2="438.90" stroke="#7E7E7E" stroke-width="1" stroke-dasharray="8,2.5" />
<line x1="446.10" y1="456.90" x2="707.70" y2="456.90" stroke="#7E7E7E" stroke-width="1" stroke-dasharray="8,2.5" />
<line x1="446.10" y1="474.90" x2="707.70" y2="474.90" stroke="#7E7E7E" stroke-width="1" stroke-dasharray="8,2.5" />
<line x1="446.10" y1="492.90" x2="707.70" y2="492.90" stroke="#7E7E7E" stroke-width="1" stroke-dasharray="8,2.5" />
<line x1="446.10" y1="510.90" x2="707.70" y2="510.90" stroke="#7E7E7E" stroke-width="1" stroke-dasharray="8,2.5" />
<line x1="446.10" y1="528.90" x2="707.70" y2="528.90" stroke="#7E7E7E" stroke-width="1" stroke-dasharray="8,2.5" />
<line x1="446.10" y1="546.90" x2="707.70" y2="546.90" stroke="#7E7E7E" stroke-width="1" stroke-dasharray="8,2.5" />
<line x1="467.90" y1="384.90" x2="467.90" y2="564.90" stroke="#A8A8A8" stroke-width="1" stroke-dasharray="5,3.5" stroke-dashoffset="-1.5"/>
<line x1="489.70" y1="384.90" x2="489.70" y2="564.90" stroke="#A8A8A8" stroke-width="1" stroke-dasharray="5,3.5" stroke-dashoffset="-1.5"/>
<line x1="511.50" y1="384.90" x2="511.50" y2="564.90" stroke="#A8A8A8" stroke-width="1" stroke-dasharray="5,3.5" stroke-dashoffset="-1.5"/>
<line x1="533.30" y1="384.90" x2="533.30" y2="564.90" stroke="#A8A8A8" stroke-width="1" stroke-dasharray="5,3.5" stroke-dashoffset="-1.5"/>
<line x1="555.10" y1="384.90" x2="555.10" y2="564.90" stroke="#A8A8A8" stroke-width="1" stroke-dasharray="5,3.5" stroke-dashoffset="-1.5"/>
<line x1="576.90" y1="384.90" x2="576.90" y2="564.90" stroke="#A8A8A8" stroke-width="1" stroke-dasharray="5,3.5" stroke-dashoffset="-1.5"/>
<line x1="598.70" y1="384.90" x2="598.70" y2="564.90" stroke="#A8A8A8" stroke-width="1" stroke-dasharray="5,3.5" stroke-dashoffset="-1.5"/>
<line x1="620.50" y1="384.90" x2="620.50" y2="564.90" stroke="#A8A8A8" stroke-width="1" stroke-dasharray="5,3.5" stroke-dashoffset="-1.5"/>
<line x1="642.30" y1="384.90" x2="642.30" y2="564.90" stroke="#A8A8A8" stroke-width="1" stroke-dasharray="5,3.5" stroke-dashoffset="-1.5"/>
<line x1="664.10" y1="384.90" x2="664.10" y2="564.90" stroke="#A8A8A8" stroke-width="1" stroke-dasharray="5,3.5" stroke-dashoffset="-1.5"/>
<line x1="685.90" y1="384.90" x2="685.90" y2="564.90" stroke="#A8A8A8" stroke-width="1" stroke-dasharray="5,3.5" stroke-dashoffset="-1.5"/>
<rect x="446.10" y="384.90" width="261.60" height="180.00" fill="none" stroke="#868686" stroke-width="1" />
<text transform="translate(432.20,388.80) scale(1,1.13)" x="0" y="0" font-size="11.3" text-anchor="end" font-weight="normal" fill="#000" stroke="#000" stroke-width="0.12" >15.0</text>
<text transform="translate(432.20,406.80) scale(1,1.13)" x="0" y="0" font-size="11.3" text-anchor="end" font-weight="normal" fill="#000" stroke="#000" stroke-width="0.12" >14.5</text>
<text transform="translate(432.20,424.80) scale(1,1.13)" x="0" y="0" font-size="11.3" text-anchor="end" font-weight="normal" fill="#000" stroke="#000" stroke-width="0.12" >14.0</text>
<text transform="translate(432.20,442.80) scale(1,1.13)" x="0" y="0" font-size="11.3" text-anchor="end" font-weight="normal" fill="#000" stroke="#000" stroke-width="0.12" >13.5</text>
<text transform="translate(432.20,460.80) scale(1,1.13)" x="0" y="0" font-size="11.3" text-anchor="end" font-weight="normal" fill="#000" stroke="#000" stroke-width="0.12" >13.0</text>
<text transform="translate(432.20,478.80) scale(1,1.13)" x="0" y="0" font-size="11.3" text-anchor="end" font-weight="normal" fill="#000" stroke="#000" stroke-width="0.12" >12.5</text>
<text transform="translate(432.20,496.80) scale(1,1.13)" x="0" y="0" font-size="11.3" text-anchor="end" font-weight="normal" fill="#000" stroke="#000" stroke-width="0.12" >12.0</text>
<text transform="translate(432.20,514.80) scale(1,1.13)" x="0" y="0" font-size="11.3" text-anchor="end" font-weight="normal" fill="#000" stroke="#000" stroke-width="0.12" >11.5</text>
<text transform="translate(432.20,532.80) scale(1,1.13)" x="0" y="0" font-size="11.3" text-anchor="end" font-weight="normal" fill="#000" stroke="#000" stroke-width="0.12" >11.0</text>
<text transform="translate(432.20,550.80) scale(1,1.13)" x="0" y="0" font-size="11.3" text-anchor="end" font-weight="normal" fill="#000" stroke="#000" stroke-width="0.12" >10.5</text>
<text transform="translate(432.20,568.80) scale(1,1.13)" x="0" y="0" font-size="11.3" text-anchor="end" font-weight="normal" fill="#000" stroke="#000" stroke-width="0.12" >10.0</text>
<text transform="translate(446.10,583.60) scale(1,1.12)" x="0" y="0" font-size="11.4" text-anchor="middle" font-weight="normal" fill="#000" stroke="#000" stroke-width="0.12" >0</text>
<text transform="translate(489.70,583.60) scale(1,1.12)" x="0" y="0" font-size="11.4" text-anchor="middle" font-weight="normal" fill="#000" stroke="#000" stroke-width="0.12" >60</text>
<text transform="translate(533.30,583.60) scale(1,1.12)" x="0" y="0" font-size="11.4" text-anchor="middle" font-weight="normal" fill="#000" stroke="#000" stroke-width="0.12" >120</text>
<text transform="translate(576.90,583.60) scale(1,1.12)" x="0" y="0" font-size="11.4" text-anchor="middle" font-weight="normal" fill="#000" stroke="#000" stroke-width="0.12" >180</text>
<text transform="translate(620.50,583.60) scale(1,1.12)" x="0" y="0" font-size="11.4" text-anchor="middle" font-weight="normal" fill="#000" stroke="#000" stroke-width="0.12" >240</text>
<text transform="translate(664.10,583.60) scale(1,1.12)" x="0" y="0" font-size="11.4" text-anchor="middle" font-weight="normal" fill="#000" stroke="#000" stroke-width="0.12" >300</text>
<text transform="translate(707.70,583.60) scale(1,1.12)" x="0" y="0" font-size="11.4" text-anchor="middle" font-weight="normal" fill="#000" stroke="#000" stroke-width="0.12" >360</text>
<text transform="translate(574.20,597.90) scale(1,1.12)" x="0" y="0" font-size="12.5" text-anchor="middle" font-weight="bold" fill="#000" textLength="109.2" lengthAdjust="spacingAndGlyphs" stroke="#fff" stroke-width="0.22">Charge time(min)</text>
<text transform="translate(397.60,467.50) rotate(-90) scale(1,1.1)" x="0" y="0" font-size="12" text-anchor="middle" font-weight="bold" fill="#000" textLength="102.8" lengthAdjust="spacingAndGlyphs">Charge Volatge(V)</text>
<line x1="587.00" y1="378.00" x2="607.40" y2="378.00" stroke="#C00000" stroke-width="3" />
<text x="611.60" y="381.70" font-size="10.4" text-anchor="start" font-weight="normal" fill="#000" stroke="#000" stroke-width="0.12" textLength="22" lengthAdjust="spacingAndGlyphs" >0.5C</text>
<line x1="639.00" y1="378.00" x2="659.60" y2="378.00" stroke="#558ED5" stroke-width="3" />
<text x="663.60" y="381.70" font-size="10.4" text-anchor="start" font-weight="normal" fill="#000" stroke="#000" stroke-width="0.12" textLength="22" lengthAdjust="spacingAndGlyphs" >0.2C</text>
<path d="M447.16,525.36 C447.70,514.74 447.58,504.04 448.78,493.50 C449.70,485.45 451.01,477.18 453.53,469.60 C454.72,466.03 457.37,462.86 459.91,460.06 C462.16,457.56 464.83,455.05 467.90,453.69 C474.39,450.80 481.56,448.75 488.60,447.31 C495.89,445.82 503.47,445.63 510.91,444.90 C525.23,443.51 539.55,442.06 553.89,440.94 C569.25,439.75 584.63,438.81 600.01,437.99 C606.80,437.63 613.63,437.90 620.42,437.42 C627.64,436.90 634.95,436.36 642.02,435.00 C645.35,434.36 648.87,433.27 651.63,431.40 C654.48,429.47 656.99,426.54 658.83,423.59 C660.59,420.75 661.70,417.32 662.43,414.02 C663.49,409.15 663.60,404.06 664.19,399.08" fill="none" stroke="#558ED5" stroke-width="3" stroke-linejoin="round" stroke-linecap="butt"/>
<path d="M664.19,399.08 L673.26,399.08" fill="none" stroke="#558ED5" stroke-width="3" stroke-linejoin="round"/>
<path d="M447.16,512.61 C447.27,503.57 447.21,494.51 447.49,485.47 C447.65,480.19 447.72,474.85 448.46,469.63 C449.21,464.30 449.71,458.49 451.95,453.79 C453.52,450.51 456.93,447.95 459.91,445.69 C462.25,443.93 465.05,442.52 467.90,441.74 C474.62,439.89 481.71,439.21 488.60,437.81 C496.05,436.30 503.87,435.60 510.91,433.02 C515.55,431.33 520.39,428.53 523.62,425.00 C526.22,422.16 527.36,417.76 528.41,413.91 C529.74,409.03 529.99,403.83 530.78,398.79" fill="none" stroke="#C00000" stroke-width="3" stroke-linejoin="round" stroke-linecap="butt"/>
<path d="M530.78,398.79 L542.59,398.79" fill="none" stroke="#C00000" stroke-width="3" stroke-linejoin="round"/>
<line x1="93.60" y1="683.42" x2="345.04" y2="683.42" stroke="#9A9A9A" stroke-width="1" stroke-dasharray="7.5,3" />
<line x1="93.60" y1="718.14" x2="345.04" y2="718.14" stroke="#9A9A9A" stroke-width="1" stroke-dasharray="7.5,3" />
<line x1="93.60" y1="752.86" x2="345.04" y2="752.86" stroke="#9A9A9A" stroke-width="1" stroke-dasharray="7.5,3" />
<line x1="93.60" y1="787.58" x2="345.04" y2="787.58" stroke="#9A9A9A" stroke-width="1" stroke-dasharray="7.5,3" />
<line x1="111.56" y1="648.70" x2="111.56" y2="822.30" stroke="#9E9E9E" stroke-width="1" stroke-dasharray="7.5,3" stroke-dashoffset="-2"/>
<line x1="129.52" y1="648.70" x2="129.52" y2="822.30" stroke="#9E9E9E" stroke-width="1" stroke-dasharray="7.5,3" stroke-dashoffset="-2"/>
<line x1="147.48" y1="648.70" x2="147.48" y2="822.30" stroke="#9E9E9E" stroke-width="1" stroke-dasharray="7.5,3" stroke-dashoffset="-2"/>
<line x1="165.44" y1="648.70" x2="165.44" y2="822.30" stroke="#9E9E9E" stroke-width="1" stroke-dasharray="7.5,3" stroke-dashoffset="-2"/>
<line x1="183.40" y1="648.70" x2="183.40" y2="822.30" stroke="#9E9E9E" stroke-width="1" stroke-dasharray="7.5,3" stroke-dashoffset="-2"/>
<line x1="201.36" y1="648.70" x2="201.36" y2="822.30" stroke="#9E9E9E" stroke-width="1" stroke-dasharray="7.5,3" stroke-dashoffset="-2"/>
<line x1="219.32" y1="648.70" x2="219.32" y2="822.30" stroke="#9E9E9E" stroke-width="1" stroke-dasharray="7.5,3" stroke-dashoffset="-2"/>
<line x1="237.28" y1="648.70" x2="237.28" y2="822.30" stroke="#9E9E9E" stroke-width="1" stroke-dasharray="7.5,3" stroke-dashoffset="-2"/>
<line x1="255.24" y1="648.70" x2="255.24" y2="822.30" stroke="#9E9E9E" stroke-width="1" stroke-dasharray="7.5,3" stroke-dashoffset="-2"/>
<line x1="273.20" y1="648.70" x2="273.20" y2="822.30" stroke="#9E9E9E" stroke-width="1" stroke-dasharray="7.5,3" stroke-dashoffset="-2"/>
<line x1="291.16" y1="648.70" x2="291.16" y2="822.30" stroke="#9E9E9E" stroke-width="1" stroke-dasharray="7.5,3" stroke-dashoffset="-2"/>
<line x1="309.12" y1="648.70" x2="309.12" y2="822.30" stroke="#9E9E9E" stroke-width="1" stroke-dasharray="7.5,3" stroke-dashoffset="-2"/>
<line x1="327.08" y1="648.70" x2="327.08" y2="822.30" stroke="#9E9E9E" stroke-width="1" stroke-dasharray="7.5,3" stroke-dashoffset="-2"/>
<rect x="93.60" y="648.70" width="251.44" height="173.60" fill="none" stroke="#868686" stroke-width="1" />
<text transform="translate(82.80,652.90) scale(1,1.15)" x="0" y="0" font-size="11.26" text-anchor="end" font-weight="normal" fill="#000" stroke="#000" stroke-width="0.12" >110%</text>
<text transform="translate(82.80,687.62) scale(1,1.15)" x="0" y="0" font-size="11.26" text-anchor="end" font-weight="normal" fill="#000" stroke="#000" stroke-width="0.12" >100%</text>
<text transform="translate(82.80,722.34) scale(1,1.15)" x="0" y="0" font-size="11.26" text-anchor="end" font-weight="normal" fill="#000" stroke="#000" stroke-width="0.12" >90%</text>
<text transform="translate(82.80,757.06) scale(1,1.15)" x="0" y="0" font-size="11.26" text-anchor="end" font-weight="normal" fill="#000" stroke="#000" stroke-width="0.12" >80%</text>
<text transform="translate(82.80,791.78) scale(1,1.15)" x="0" y="0" font-size="11.26" text-anchor="end" font-weight="normal" fill="#000" stroke="#000" stroke-width="0.12" >70%</text>
<text transform="translate(82.80,826.50) scale(1,1.15)" x="0" y="0" font-size="11.26" text-anchor="end" font-weight="normal" fill="#000" stroke="#000" stroke-width="0.12" >60%</text>
<text transform="translate(93.60,840.60) scale(1,1.08)" x="0" y="0" font-size="11.8" text-anchor="middle" font-weight="normal" fill="#000" stroke="#000" stroke-width="0.12" >0</text>
<text transform="translate(129.52,840.60) scale(1,1.08)" x="0" y="0" font-size="11.8" text-anchor="middle" font-weight="normal" fill="#000" stroke="#000" stroke-width="0.12" >1000</text>
<text transform="translate(165.44,840.60) scale(1,1.08)" x="0" y="0" font-size="11.8" text-anchor="middle" font-weight="normal" fill="#000" stroke="#000" stroke-width="0.12" >2000</text>
<text transform="translate(201.36,840.60) scale(1,1.08)" x="0" y="0" font-size="11.8" text-anchor="middle" font-weight="normal" fill="#000" stroke="#000" stroke-width="0.12" >3000</text>
<text transform="translate(237.28,840.60) scale(1,1.08)" x="0" y="0" font-size="11.8" text-anchor="middle" font-weight="normal" fill="#000" stroke="#000" stroke-width="0.12" >4000</text>
<text transform="translate(273.20,840.60) scale(1,1.08)" x="0" y="0" font-size="11.8" text-anchor="middle" font-weight="normal" fill="#000" stroke="#000" stroke-width="0.12" >5000</text>
<text transform="translate(309.12,840.60) scale(1,1.08)" x="0" y="0" font-size="11.8" text-anchor="middle" font-weight="normal" fill="#000" stroke="#000" stroke-width="0.12" >6000</text>
<text transform="translate(345.04,840.60) scale(1,1.08)" x="0" y="0" font-size="11.8" text-anchor="middle" font-weight="normal" fill="#000" stroke="#000" stroke-width="0.12" >7000</text>
<text transform="translate(246.30,856.70) scale(1,1.12)" x="0" y="0" font-size="12.3" text-anchor="middle" font-weight="bold" fill="#000" textLength="113.9" lengthAdjust="spacingAndGlyphs" stroke="#fff" stroke-width="0.22">Numener of Cycles</text>
<text transform="translate(45.80,740.50) rotate(-90) scale(1,1.1)" x="0" y="0" font-size="12.2" text-anchor="middle" font-weight="bold" fill="#000" textLength="125.9" lengthAdjust="spacingAndGlyphs">Remaining capacty(%)</text>
<line x1="102.70" y1="643.00" x2="130.70" y2="643.00" stroke="#4A7EBB" stroke-width="3" />
<text x="133.30" y="647.00" font-size="11.2" text-anchor="start" font-weight="normal" fill="#000" stroke="#000" stroke-width="0.12" textLength="49.4" lengthAdjust="spacingAndGlyphs" >100%DOD</text>
<line x1="187.30" y1="643.00" x2="215.00" y2="643.00" stroke="#BE4B48" stroke-width="3" />
<text x="217.30" y="647.00" font-size="11.2" text-anchor="start" font-weight="normal" fill="#000" stroke="#000" stroke-width="0.12" textLength="44.4" lengthAdjust="spacingAndGlyphs" >80%DOD</text>
<line x1="266.70" y1="643.00" x2="294.00" y2="643.00" stroke="#77933C" stroke-width="3" />
<text x="296.00" y="647.00" font-size="11.2" text-anchor="start" font-weight="normal" fill="#000" stroke="#000" stroke-width="0.12" textLength="44.7" lengthAdjust="spacingAndGlyphs" >50%DOD</text>
<path d="M93.60,683.42 L309.12,780.64" fill="none" stroke="#77933C" stroke-width="2.8" stroke-linejoin="round"/>
<path d="M93.60,683.42 L219.32,780.64" fill="none" stroke="#BE4B48" stroke-width="2.8" stroke-linejoin="round"/>
<path d="M93.60,683.42 L165.44,780.64" fill="none" stroke="#4A7EBB" stroke-width="2.8" stroke-linejoin="round"/>
<line x1="443.30" y1="666.39" x2="704.30" y2="666.39" stroke="#A0A0A0" stroke-width="1" />
<line x1="443.30" y1="688.47" x2="704.30" y2="688.47" stroke="#A0A0A0" stroke-width="1" />
<line x1="443.30" y1="710.56" x2="704.30" y2="710.56" stroke="#A0A0A0" stroke-width="1" />
<line x1="443.30" y1="732.65" x2="704.30" y2="732.65" stroke="#A0A0A0" stroke-width="1" />
<line x1="443.30" y1="754.74" x2="704.30" y2="754.74" stroke="#A0A0A0" stroke-width="1" />
<line x1="443.30" y1="776.83" x2="704.30" y2="776.83" stroke="#A0A0A0" stroke-width="1" />
<line x1="443.30" y1="798.91" x2="704.30" y2="798.91" stroke="#A0A0A0" stroke-width="1" />
<line x1="469.40" y1="644.30" x2="469.40" y2="821.00" stroke="#C4C4C4" stroke-width="1" />
<line x1="495.50" y1="644.30" x2="495.50" y2="821.00" stroke="#C4C4C4" stroke-width="1" />
<line x1="521.60" y1="644.30" x2="521.60" y2="821.00" stroke="#C4C4C4" stroke-width="1" />
<line x1="547.70" y1="644.30" x2="547.70" y2="821.00" stroke="#C4C4C4" stroke-width="1" />
<line x1="573.80" y1="644.30" x2="573.80" y2="821.00" stroke="#C4C4C4" stroke-width="1" />
<line x1="599.90" y1="644.30" x2="599.90" y2="821.00" stroke="#C4C4C4" stroke-width="1" />
<line x1="626.00" y1="644.30" x2="626.00" y2="821.00" stroke="#C4C4C4" stroke-width="1" />
<line x1="652.10" y1="644.30" x2="652.10" y2="821.00" stroke="#C4C4C4" stroke-width="1" />
<line x1="678.20" y1="644.30" x2="678.20" y2="821.00" stroke="#C4C4C4" stroke-width="1" />
<rect x="443.30" y="644.30" width="261.00" height="176.70" fill="none" stroke="#898989" stroke-width="1" />
<text transform="translate(430.90,648.00) scale(1,1.02)" x="0" y="0" font-size="11.8" text-anchor="end" font-weight="normal" fill="#000" stroke="#000" stroke-width="0.12" textLength="22.9" lengthAdjust="spacingAndGlyphs" >13.6</text>
<text transform="translate(430.90,670.09) scale(1,1.02)" x="0" y="0" font-size="11.8" text-anchor="end" font-weight="normal" fill="#000" stroke="#000" stroke-width="0.12" textLength="22.9" lengthAdjust="spacingAndGlyphs" >13.4</text>
<text transform="translate(430.90,692.17) scale(1,1.02)" x="0" y="0" font-size="11.8" text-anchor="end" font-weight="normal" fill="#000" stroke="#000" stroke-width="0.12" textLength="22.9" lengthAdjust="spacingAndGlyphs" >13.2</text>
<text transform="translate(430.90,714.26) scale(1,1.02)" x="0" y="0" font-size="11.8" text-anchor="end" font-weight="normal" fill="#000" stroke="#000" stroke-width="0.12" textLength="22.9" lengthAdjust="spacingAndGlyphs" >13.0</text>
<text transform="translate(430.90,736.35) scale(1,1.02)" x="0" y="0" font-size="11.8" text-anchor="end" font-weight="normal" fill="#000" stroke="#000" stroke-width="0.12" textLength="22.9" lengthAdjust="spacingAndGlyphs" >12.8</text>
<text transform="translate(430.90,758.44) scale(1,1.02)" x="0" y="0" font-size="11.8" text-anchor="end" font-weight="normal" fill="#000" stroke="#000" stroke-width="0.12" textLength="22.9" lengthAdjust="spacingAndGlyphs" >12.6</text>
<text transform="translate(430.90,780.53) scale(1,1.02)" x="0" y="0" font-size="11.8" text-anchor="end" font-weight="normal" fill="#000" stroke="#000" stroke-width="0.12" textLength="22.9" lengthAdjust="spacingAndGlyphs" >12.4</text>
<text transform="translate(430.90,802.61) scale(1,1.02)" x="0" y="0" font-size="11.8" text-anchor="end" font-weight="normal" fill="#000" stroke="#000" stroke-width="0.12" textLength="22.9" lengthAdjust="spacingAndGlyphs" >12.2</text>
<text transform="translate(430.90,824.70) scale(1,1.02)" x="0" y="0" font-size="11.8" text-anchor="end" font-weight="normal" fill="#000" stroke="#000" stroke-width="0.12" textLength="22.9" lengthAdjust="spacingAndGlyphs" >12.0</text>
<text x="443.30" y="842.00" font-size="11.3" text-anchor="middle" font-weight="normal" fill="#000" stroke="#000" stroke-width="0.12" >0%</text>
<text x="495.50" y="842.00" font-size="11.3" text-anchor="middle" font-weight="normal" fill="#000" stroke="#000" stroke-width="0.12" >20%</text>
<text x="547.70" y="842.00" font-size="11.3" text-anchor="middle" font-weight="normal" fill="#000" stroke="#000" stroke-width="0.12" >40%</text>
<text x="599.90" y="842.00" font-size="11.3" text-anchor="middle" font-weight="normal" fill="#000" stroke="#000" stroke-width="0.12" >60%</text>
<text x="652.10" y="842.00" font-size="11.3" text-anchor="middle" font-weight="normal" fill="#000" stroke="#000" stroke-width="0.12" >80%</text>
<text x="704.30" y="842.00" font-size="11.3" text-anchor="middle" font-weight="normal" fill="#000" stroke="#000" stroke-width="0.12" >100%</text>
<text x="574.00" y="862.10" font-size="12" text-anchor="middle" font-weight="bold" fill="#000" textLength="40" lengthAdjust="spacingAndGlyphs" >SOC(%)</text>
<text transform="translate(399.30,734.10) rotate(-90) scale(1,1.1)" x="0" y="0" font-size="12.3" text-anchor="middle" font-weight="bold" fill="#000" textLength="128.8" lengthAdjust="spacingAndGlyphs">Open Circuit Voltage(V)</text>
<path d="M452.24,821.07 C453.62,804.99 454.63,788.86 456.38,772.83 C456.83,768.70 457.81,764.62 458.83,760.59 C459.86,756.46 460.41,751.96 462.53,748.35 C466.07,742.36 470.89,736.84 475.82,731.79 C483.18,724.24 490.83,716.61 499.40,710.55 C506.19,705.75 514.08,702.17 521.89,699.22 C530.28,696.05 539.20,694.14 547.99,692.20 C556.30,690.36 564.80,689.37 573.19,687.88 C581.60,686.37 589.99,684.76 598.39,683.20 C606.79,681.64 615.17,679.98 623.59,678.52 C628.97,677.58 634.35,676.49 639.78,676.00 C647.55,675.29 655.38,675.15 663.18,674.92 C671.58,674.67 680.00,674.97 688.38,674.56 C692.24,674.37 696.06,673.60 699.90,673.12" fill="none" stroke="#00B050" stroke-width="3.2" stroke-linejoin="round" stroke-linecap="butt"/>
</svg></body></html>
